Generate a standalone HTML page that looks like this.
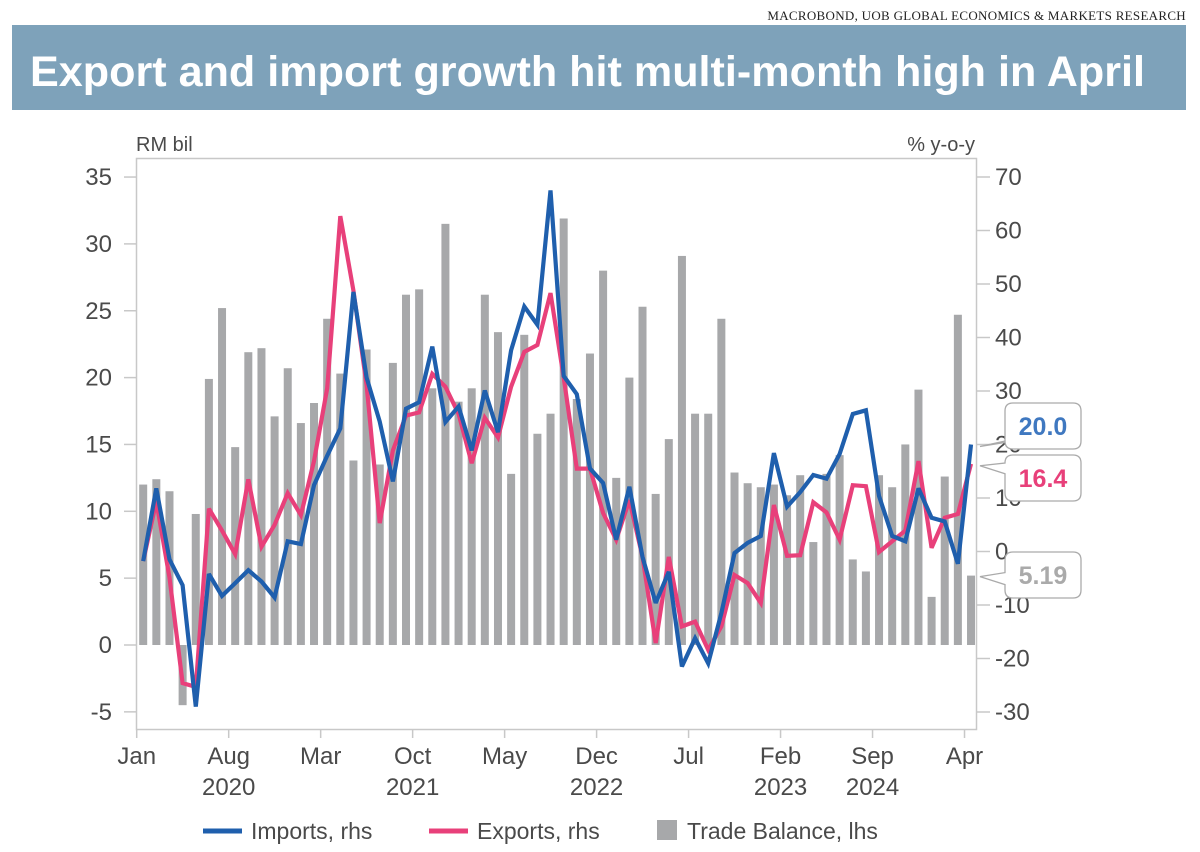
<!DOCTYPE html>
<html><head><meta charset="utf-8"><style>
html,body{margin:0;padding:0;background:#fff;}
svg{display:block;font-family:"Liberation Sans",sans-serif;}
</style></head><body>
<svg id="chart" width="1200" height="852" viewBox="0 0 1200 852">
<text x="1186" y="20" text-anchor="end" font-family="Liberation Serif,serif" font-size="13" fill="#222" letter-spacing="0.3">MACROBOND, UOB GLOBAL ECONOMICS &amp; MARKETS RESEARCH</text>
<rect x="12" y="25" width="1174" height="85" fill="#7EA2BA"/>
<text x="30" y="86" font-size="43" font-weight="bold" fill="#fff" textLength="1115" lengthAdjust="spacingAndGlyphs">Export and import growth hit multi-month high in April</text>
<text x="136" y="151" font-size="20" fill="#4a4a4a">RM bil</text>
<text x="975" y="151" font-size="20" fill="#4a4a4a" text-anchor="end">% y-o-y</text>
<rect x="136.5" y="158.5" width="840" height="571" fill="none" stroke="#c8c8c8" stroke-width="1.5"/>
<g id="bars"></g><g id="lines"></g><g id="axes"></g>
<g>
<line x1="203" y1="831" x2="242" y2="831" stroke="#1F5FAD" stroke-width="5"/>
<text x="251" y="839" font-size="23" fill="#4a4a4a">Imports, rhs</text>
<line x1="429" y1="831" x2="468" y2="831" stroke="#E8407A" stroke-width="5"/>
<text x="477" y="839" font-size="23" fill="#4a4a4a">Exports, rhs</text>
<rect x="657" y="820" width="20" height="20" fill="#A7A8AA"/>
<text x="687" y="839" font-size="23" fill="#4a4a4a">Trade Balance, lhs</text>
</g>
<g id="callouts"></g>
</svg>
<script>
const months=["Jan","Aug","Mar","Oct","May","Dec","Jul","Feb","Sep","Apr"];
const monthIdx=[0,7,14,21,28,35,42,49,56,63];
const years=["2020","2021","2022","2023","2024"];
const yearIdx=[7,21,35,49,56];
const leftTicks=[-5,0,5,10,15,20,25,30,35];
const rightTicks=[-30,-20,-10,0,10,20,30,40,50,60,70];
const balance=[12.0,12.4,11.5,-4.5,9.8,19.9,25.2,14.8,21.9,22.2,17.1,20.7,16.6,18.1,24.4,20.3,13.8,22.1,13.5,21.1,26.2,26.6,19.2,31.5,18.2,19.2,26.2,23.4,12.8,23.2,15.8,17.3,31.9,18.4,21.8,28.0,12.5,20.0,25.3,11.3,15.4,29.1,17.3,17.3,24.4,12.9,12.1,11.8,12.0,11.2,12.7,7.7,12.8,14.2,6.4,5.5,12.7,11.8,15.0,19.1,3.6,12.6,24.7,5.19];
const imports=[-1.8,11.8,-1.5,-6.3,-29,-4.2,-8.3,-5.9,-3.5,-5.6,-8.6,1.9,1.4,12.4,17.9,23.0,48.5,32.5,24.3,13.1,26.7,27.9,38.3,24.2,27.1,18.9,30.1,22.3,37.6,45.8,42.4,67.5,32.8,29.4,15.5,12.8,2.2,12.1,-1.0,-9.6,-3.8,-21.5,-16.2,-20.9,-11.5,-0.3,1.6,2.9,18.4,8.4,11.1,14.3,13.6,18.2,25.7,26.4,10.4,2.9,1.9,11.8,6.3,5.6,-2.3,20.0];
const exportsS=[-1.8,9.4,-4.9,-24.6,-25.3,8.0,3.9,-0.5,13.5,0.9,5.0,10.9,6.8,16.9,30.5,62.7,48.8,31.1,5.3,18.9,25.4,26.0,33.2,30.8,25.7,16.5,25.0,21.3,30.8,37.3,38.6,48.3,32.5,15.5,15.5,7.2,2.2,9.6,-1.0,-17.1,-1.0,-14.0,-13.1,-18.4,-14.0,-4.4,-5.9,-9.6,8.7,-0.8,-0.7,9.2,7.3,2.2,12.4,12.2,-0.1,1.9,3.9,16.9,0.7,6.3,7.0,16.4];
const NS="http://www.w3.org/2000/svg";
const x0=136.7, dx=13.14;
const xt=i=>x0+dx*i;
const xb=i=>x0+dx*i+6.5;
const yL=v=>645-v*13.37;
const yR=v=>551.5-v*5.35;
function mk(tag,attrs,parent,text){const e=document.createElementNS(NS,tag);for(const k in attrs)e.setAttribute(k,attrs[k]);if(text!==undefined)e.textContent=text;parent.appendChild(e);return e;}
const gb=document.getElementById('bars');
balance.forEach((v,i)=>{
 const y=Math.min(yL(v),yL(0));const h=Math.abs(yL(v)-yL(0));
 const r=mk('rect',{x:xb(i)-4,y:y,width:8,height:h,fill:'#A7A8AA'},gb);
 
 
});
const gl=document.getElementById('lines');
function line(arr,color,name){
 const d=arr.map((v,i)=>(i?'L':'M')+xb(i).toFixed(1)+','+yR(v).toFixed(1)).join('');
 const p=mk('path',{d:d,fill:'none',stroke:color,'stroke-width':4.2,'stroke-linejoin':'miter','stroke-miterlimit':3},gl);
 
 
}
line(exportsS,'#E8407A','exports-line');
line(imports,'#1F5FAD','imports-line');
const ga=document.getElementById('axes');
leftTicks.forEach(v=>{
 const l=mk('line',{x1:124,x2:136.5,y1:yL(v),y2:yL(v),stroke:'#c8c8c8','stroke-width':1.5},ga);
 
 
 const t=mk('text',{x:112,y:yL(v)+8,'text-anchor':'end','font-size':24,fill:'#4a4a4a'},ga,String(v));
 
 
});
rightTicks.forEach(v=>{
 const l=mk('line',{x1:976.5,x2:990,y1:yR(v),y2:yR(v),stroke:'#c8c8c8','stroke-width':1.5},ga);
 
 
 const t=mk('text',{x:995,y:yR(v)+8,'font-size':24,fill:'#4a4a4a'},ga,String(v));
 
 
});
months.forEach((m,k)=>{
 const x=xt(monthIdx[k]);
 const l=mk('line',{x1:x,x2:x,y1:730,y2:738,stroke:'#c8c8c8','stroke-width':1.5},ga);
 
 
 const t=mk('text',{x:x,y:764,'text-anchor':'middle','font-size':24,fill:'#4a4a4a'},ga,m);
 
 
});
years.forEach((y,k)=>{
 const t=mk('text',{x:xt(yearIdx[k]),y:795,'text-anchor':'middle','font-size':24,fill:'#4a4a4a'},ga,y);
 
 
});
const gc=document.getElementById('callouts');
function callout(v,yt,by,color,name){
 const bx=1005,bw=76,bh=46;
 const d=`M${bx+8},${by} H${bx+bw-8} Q${bx+bw},${by} ${bx+bw},${by+8} V${by+bh-8} Q${bx+bw},${by+bh} ${bx+bw-8},${by+bh} H${bx+8} Q${bx},${by+bh} ${bx},${by+bh-8} V${Math.min(by+bh-8,yt+8)} L980,${yt} L${bx},${Math.max(by+8,yt-4)} V${by+8} Q${bx},${by} ${bx+8},${by} Z`;
 const p=mk('path',{d:d,fill:'#fff',stroke:'#aaa','stroke-width':1.3},gc);
 
 
 const t=mk('text',{x:bx+bw/2,y:by+32,'text-anchor':'middle','font-size':25,'font-weight':'bold',fill:color},gc,v);
 
 
}
callout(imports[imports.length-1].toFixed(1),yR(imports[imports.length-1])+2,403,'#3F78C0','imports-callout');
callout(exportsS[exportsS.length-1].toFixed(1),yR(exportsS[exportsS.length-1])+2,455,'#E8407A','exports-callout');
callout(String(balance[balance.length-1]),yL(balance[balance.length-1])+1,552,'#aaa','balance-callout');
</script>
</body></html>
